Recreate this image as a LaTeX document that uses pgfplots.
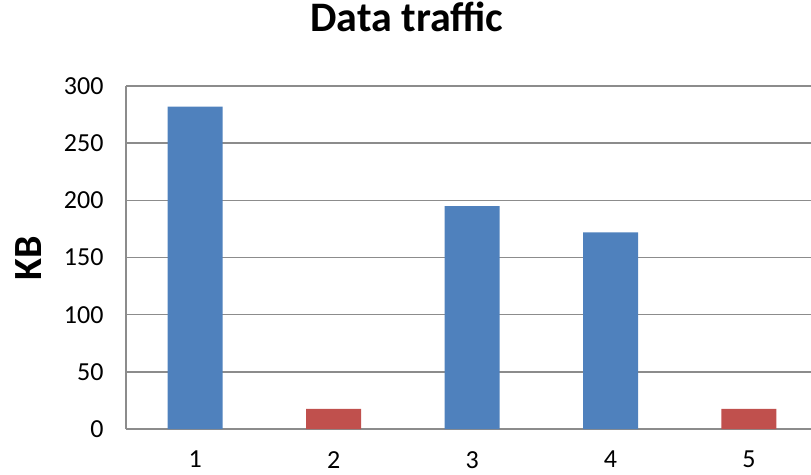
\documentclass[border=0pt]{standalone}
\usepackage{fontspec}
\setmainfont{Carlito}
\usepackage{pgfplots}
\pgfplotsset{compat=1.18}
\definecolor{barblue}{HTML}{4F81BD}
\definecolor{barred}{HTML}{C0504D}
\definecolor{gridgray}{HTML}{8C8C8C}
\begin{document}
\begin{tikzpicture}[x=1pt,y=1pt]
  \useasboundingbox (0,0) rectangle (811,474);
  \begin{axis}[
      at={(126pt,45pt)}, anchor=south west,
      scale only axis,
      width=685pt, height=343pt,
      xmin=0.5, xmax=5.448,
      ymin=0, ymax=300,
      xtick={1,2,3,4,5},
      ytick={0,50,...,300},
      axis x line*=bottom,
      axis y line*=left,
      axis line style={gridgray, line width=1.6pt, -},
      major tick length=0pt,
      ymajorgrids,
      major grid style={gridgray, line width=1.6pt},
      /pgf/number format/assume math mode=true,
      tick label style={font=\fontsize{26}{30}\selectfont},
      yticklabel style={xshift=-19pt},
      xticklabel style={inner sep=0pt, text depth=0pt, yshift=-22pt},
      title={Data traffic},
      title style={font=\fontsize{42}{48}\selectfont\bfseries,
                   at={(axis description cs:0.41,1.142)}, anchor=base},
      ylabel={KB},
      ylabel style={font=\fontsize{40}{46}\selectfont\bfseries,
                    at={(axis description cs:-0.143,0.4985)}, anchor=center},
      ybar, bar width=55pt,
    ]
    \addplot[fill=barblue, draw=none, bar shift=0pt] coordinates {
      (1,282) (3,195) (4,172)
    };
    \addplot[fill=barred, draw=none, bar shift=0pt] coordinates {
      (2,17.5) (5,17.5)
    };
  \end{axis}
\end{tikzpicture}
\end{document}
